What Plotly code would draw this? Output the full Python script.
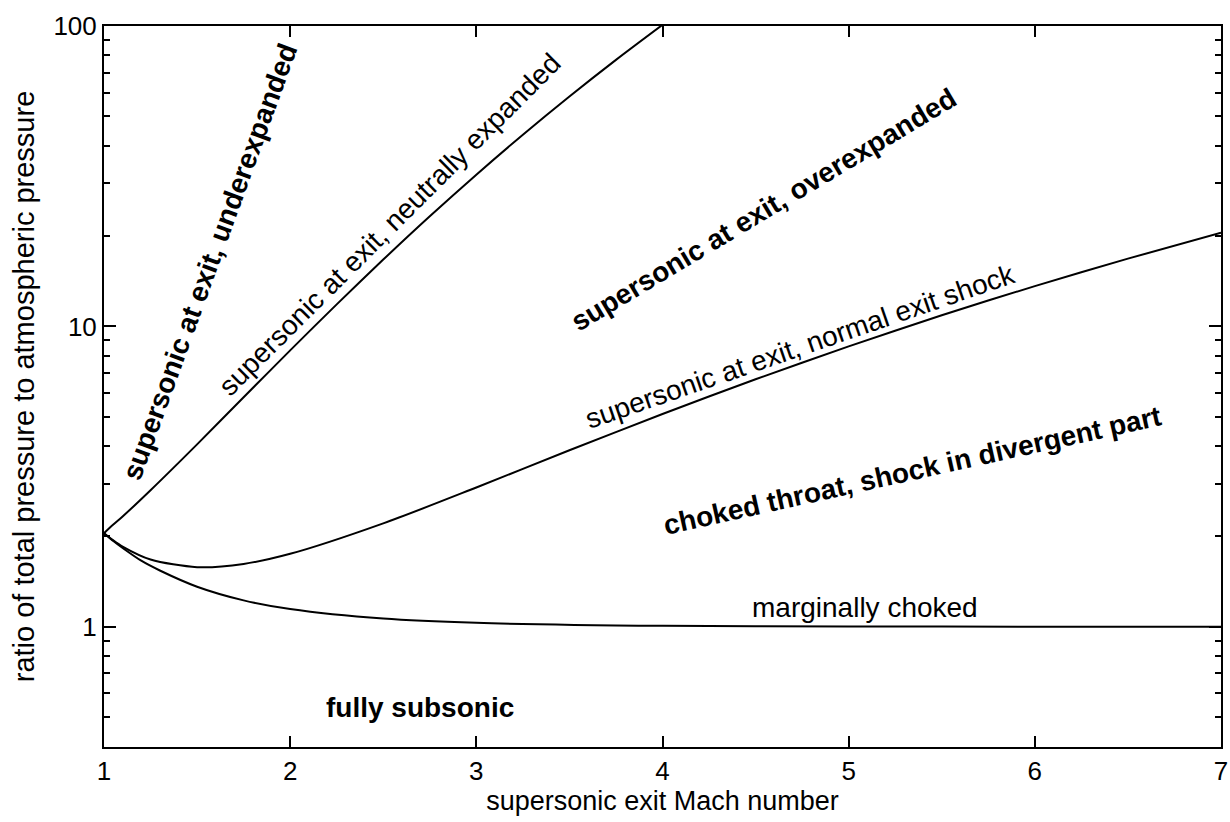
import plotly.graph_objects as go

# Supersonic exit Mach number samples and read-off pressure ratios (p0 / p_atm)
mach_neutral = [1.0, 1.05, 1.1, 1.25, 1.5, 1.75, 2.0, 2.25, 2.5, 2.75, 3.0, 3.25, 3.5, 3.75, 4.0]
ratio_neutral = [2.05, 2.19, 2.33, 2.85, 4.05, 5.81, 8.32, 11.84, 16.69, 23.26, 32.0, 43.46, 58.26, 77.15, 100.9]

mach_shock = [1.0, 1.05, 1.1, 1.25, 1.5, 1.75, 2.0, 2.5, 3.0, 3.5, 4.0, 4.5, 5.0, 5.5, 6.0, 6.5, 7.0]
ratio_shock = [2.05, 1.94, 1.85, 1.675, 1.58, 1.62, 1.75, 2.21, 2.91, 3.87, 5.11, 6.67, 8.58, 10.89, 13.62, 16.81, 20.5]

mach_marginal = [1.0, 1.05, 1.1, 1.2, 1.3, 1.5, 1.75, 2.0, 2.5, 3.0, 4.0, 5.0, 6.0, 7.0]
ratio_marginal = [2.05, 1.93, 1.83, 1.66, 1.54, 1.36, 1.225, 1.146, 1.065, 1.031, 1.008, 1.003, 1.001, 1.0005]

x_ticks = [1, 2, 3, 4, 5, 6, 7]
y_ticks = [1, 10, 100]
y_tick_labels = ["1", "10", "100"]
y_minor = [0.4, 0.5, 0.6, 0.7, 0.8, 0.9, 2, 3, 4, 5, 6, 7, 8, 9, 20, 30, 40, 50, 60, 70, 80, 90]

FONT = "Liberation Sans, Arial, Helvetica, sans-serif"

fig = go.Figure()
for xs, ys in [(mach_neutral, ratio_neutral), (mach_shock, ratio_shock), (mach_marginal, ratio_marginal)]:
    fig.add_trace(go.Scatter(x=xs, y=ys, mode="lines",
                             line=dict(color="black", width=2, shape="spline", smoothing=0.8),
                             showlegend=False, hoverinfo="skip"))

labels = [
    ("<b>supersonic at exit, underexpanded</b>", 0.095, 0.673, -70),
    ("supersonic at exit, neutrally expanded", 0.256, 0.724, -45),
    ("<b>supersonic at exit, overexpanded</b>", 0.591, 0.745, -31),
    ("supersonic at exit, normal exit shock", 0.623, 0.556, -19),
    ("<b>choked throat, shock in divergent part</b>", 0.724, 0.383, -12.5),
    ("marginally choked", 0.681, 0.194, 0),
    ("<b>fully subsonic</b>", 0.283, 0.055, 0),
]
for text, xp, yp, ang in labels:
    fig.add_annotation(text=text, x=xp, y=yp, xref="paper", yref="paper",
                       xanchor="center", yanchor="middle", showarrow=False,
                       textangle=ang, font=dict(family=FONT, size=28, color="black"))

axis_common = dict(showline=True, linecolor="black", linewidth=2, mirror="allticks",
                   ticks="inside", tickcolor="black", tickwidth=2, automargin=False,
                   showgrid=False, zeroline=False, ticklabeloverflow="allow",
                   tickfont=dict(family=FONT, size=26, color="black"))

fig.update_xaxes(range=[1, 7], tickvals=x_ticks, ticklen=11,
                 title=dict(text="supersonic exit Mach number",
                            font=dict(family=FONT, size=27, color="black"), standoff=6),
                 **axis_common)
fig.update_yaxes(type="log", range=[-0.4, 2], tickvals=y_ticks, ticktext=y_tick_labels, ticklen=12,
                 minor=dict(tickvals=y_minor, ticks="inside", ticklen=6, tickcolor="black", tickwidth=2, showgrid=False),
                 title=dict(text="ratio of total pressure to atmospheric pressure",
                            font=dict(family=FONT, size=29, color="black"), standoff=10),
                 **axis_common)

fig.update_layout(width=1230, height=822, margin=dict(l=104, r=9, t=26, b=75),
                  plot_bgcolor="white", paper_bgcolor="white",
                  font=dict(family=FONT, color="black"))

fig.write_html("out.html")
